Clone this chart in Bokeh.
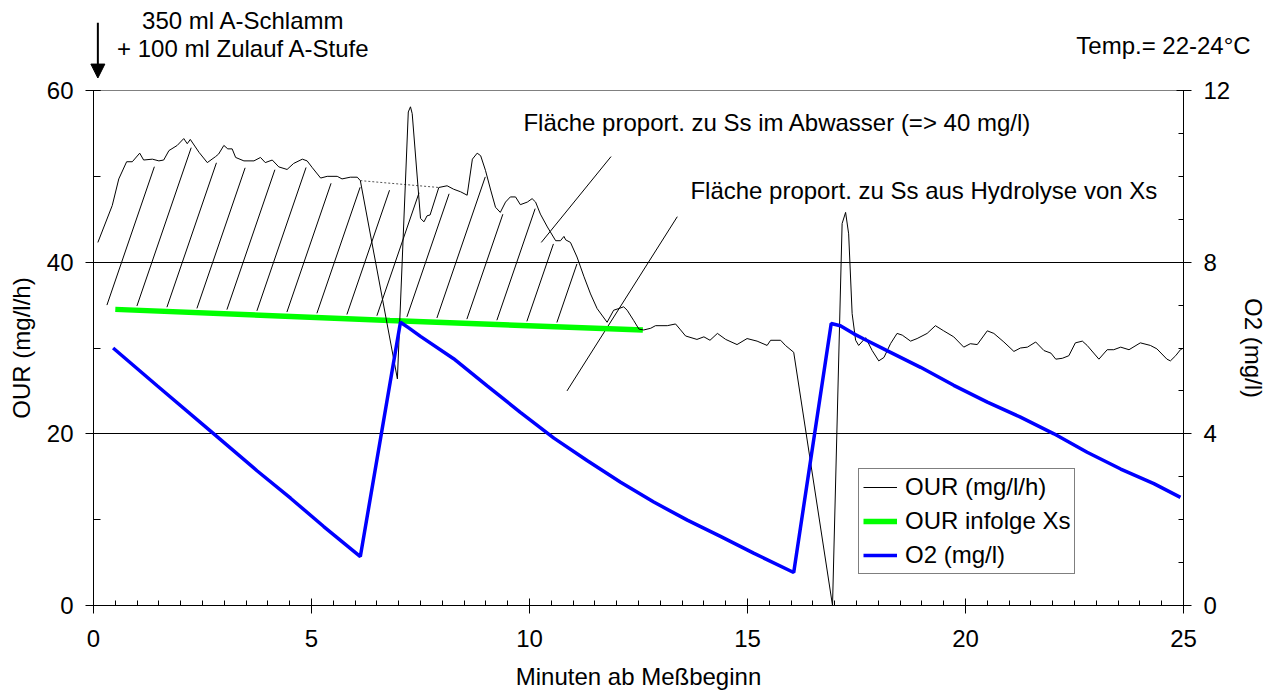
import numpy as np
from bokeh.plotting import figure
from bokeh.layouts import column
from bokeh.models import (Range1d, LinearAxis, SingleIntervalTicker, FixedTicker,
                          Legend, LegendItem, Label, Arrow, NormalHead)
from bokeh.embed import file_html
from bokeh.resources import INLINE

FONT = "Liberation Sans"
FS = "24px"

# page geometry (px)
PAGE_W = 1276
HEAD_H = 78          # caption strip above the plot
MAIN_TOP = 12        # border of the plot above its frame
FRAME_L, FRAME_R = 93, 1183
FRAME_H = 515
BOTTOM_H = 88

X_MIN, X_MAX = 0, 25
Y_MIN, Y_MAX = 0, 60
O2_MIN, O2_MAX = 0, 12

# --- measured oxygen uptake rate, OUR (mg/l/h) over time (min) ---
our_t = [0.10, 0.43, 0.58, 0.76, 0.89, 1.06, 1.15, 1.35, 1.50, 1.61, 1.73, 1.92, 2.07, 2.15,
         2.22, 2.42, 2.61, 2.80, 2.87, 2.99, 3.08, 3.18, 3.26, 3.45, 3.68, 3.83, 3.94, 4.10,
         4.25, 4.44, 4.59, 4.79, 4.90, 5.02, 5.21, 5.36, 5.59, 5.70, 5.89, 6.05, 6.12, 6.97,
         7.22, 7.27, 7.31, 7.50, 7.58, 7.65, 7.72, 7.92, 8.11, 8.26, 8.42, 8.57, 8.69, 8.80,
         8.88, 8.99, 9.11, 9.22, 9.33, 9.45, 9.56, 9.68, 9.79, 9.95, 10.06, 10.14, 10.25,
         10.41, 10.60, 10.71, 10.79, 10.83, 10.94, 11.09, 11.25, 11.40, 11.55, 11.78, 11.93,
         12.05, 12.16, 12.24, 12.39, 12.51, 12.62, 12.78, 12.89, 13.16, 13.35, 13.45, 13.58,
         13.84, 14.00, 14.14, 14.31, 14.50, 14.76, 14.99, 15.22, 15.45, 15.53, 15.76, 15.87,
         16.06, 16.95, 17.17, 17.25, 17.32, 17.40, 17.48, 17.55, 17.71, 17.86, 18.01, 18.13,
         18.28, 18.43, 18.55, 18.74, 18.89, 19.12, 19.31, 19.50, 19.73, 19.96, 20.11, 20.27,
         20.50, 20.65, 20.88, 21.11, 21.26, 21.42, 21.61, 21.80, 21.96, 22.07, 22.22, 22.37,
         22.52, 22.68, 22.79, 23.06, 23.25, 23.40, 23.56, 23.75, 24.01, 24.24, 24.39, 24.62,
         24.70, 24.82, 24.93, 25.00]
our_v = [42.3, 46.6, 49.7, 51.7, 51.7, 52.7, 51.9, 52.0, 51.8, 51.9, 53.0, 53.6, 54.4, 53.8,
         54.3, 52.8, 51.6, 52.3, 52.6, 53.6, 53.2, 53.2, 52.2, 51.8, 51.8, 52.2, 51.6, 51.9,
         51.1, 50.8, 51.5, 52.0, 51.8, 51.0, 49.8, 50.0, 50.0, 49.7, 49.9, 49.9, 49.5, 26.4,
         57.5, 58.1, 57.3, 45.1, 44.7, 45.4, 45.5, 48.7, 48.9, 48.5, 48.2, 47.8, 52.0, 52.7,
         52.4, 50.7, 48.4, 46.4, 45.8, 47.0, 47.6, 47.6, 46.7, 47.0, 47.4, 47.0, 45.6,
         44.1, 42.5, 42.5, 43.0, 42.6, 42.3, 40.6, 38.3, 36.3, 34.6, 33.0, 34.4,
         34.6, 34.8, 34.4, 33.2, 32.2, 32.1, 32.3, 32.6, 32.6, 32.8, 32.2, 31.4,
         31.0, 31.3, 30.9, 31.7, 31.0, 30.4, 31.1, 30.8, 30.3, 30.9, 30.9, 30.3,
         29.5, 0.0, 44.5, 45.8, 43.3, 34.0, 30.9, 30.3, 31.2, 29.7, 28.5, 28.9,
         30.5, 31.7, 31.5, 30.8, 31.1, 31.7, 32.6, 32.0, 31.3, 30.1, 30.5, 30.4,
         32.0, 31.7, 30.7, 29.6, 30.0, 30.1, 30.7, 29.7, 29.4, 28.7, 28.8, 29.1,
         30.6, 30.8, 30.3, 28.7, 29.8, 29.8, 30.1, 29.8, 30.6, 30.3, 29.9, 28.7,
         28.5, 29.1, 29.8, 30.0]

# --- OUR caused by hydrolysis of Xs ---
xs_t = [0.50, 6.80, 12.60]
xs_v = [34.5, 33.2, 32.1]

# --- dissolved oxygen (mg/l), right axis ---
o2_t = [0.45, 1.46, 2.76, 3.75, 4.52, 5.28, 6.12,
        7.04, 7.23, 7.50, 8.26, 9.03, 9.79, 10.56, 11.32, 12.09, 12.85, 13.62, 14.38, 15.14, 16.06,
        16.92, 17.13, 17.44, 17.67, 18.20, 18.97, 19.73, 20.50, 21.26, 22.03, 22.79, 23.56,
        24.32, 24.93]
o2_v = [6.00, 5.12, 4.00, 3.14, 2.50, 1.84, 1.14,
        6.60, 6.47, 6.27, 5.75, 5.12, 4.50, 3.90, 3.38, 2.87, 2.41, 1.99, 1.61, 1.22, 0.77,
        6.57, 6.52, 6.33, 6.21, 5.94, 5.55, 5.13, 4.74, 4.39, 4.00, 3.57, 3.18,
        2.84, 2.52]

# bridge over the aeration spike (upper limit of the Ss area)
bridge_t = [6.12, 7.92]
bridge_v = [49.5, 48.7]

# hatched area "Ss im Abwasser": dosing time to where OUR meets the Xs line
AREA_START = 0.10
AREA_END = 12.62
HATCH_FIRST = -0.38      # min, foot of the first hatch line on the Xs line
HATCH_STEP = 0.688       # min between hatch lines
HATCH_COUNT = 17
HATCH_SLANT = 0.0675     # min per mg/l/h

# pointer lines from the two area captions
ptr1_x = [11.87, 10.27]
ptr1_y = [52.3, 42.3]
ptr2_x = [13.39, 10.86]
ptr2_y = [45.3, 25.0]

DOSING_T = 0.10

# scale of the frame, shared with the caption strip above it
px_per_min = (FRAME_R - FRAME_L) / (X_MAX - X_MIN)
px_per_unit = FRAME_H / (Y_MAX - Y_MIN)

p = figure(width=PAGE_W, height=MAIN_TOP + FRAME_H + BOTTOM_H, output_backend="svg",
           toolbar_location=None,
           x_range=Range1d(X_MIN, X_MAX), y_range=Range1d(Y_MIN, Y_MAX),
           min_border_left=FRAME_L, min_border_right=PAGE_W - FRAME_R,
           min_border_top=MAIN_TOP, min_border_bottom=BOTTOM_H,
           background_fill_color="white", border_fill_color="white")
p.extra_y_ranges = {"o2": Range1d(O2_MIN, O2_MAX)}
p.outline_line_color = "#808080"
p.outline_line_width = 1

# --- hatch lines between the Xs line and the OUR curve ---
our_ta = np.array(our_t)
our_va = np.array(our_v)
keep = (our_ta <= bridge_t[0]) | (our_ta >= bridge_t[1])
top_t = our_ta[keep]
top_v = our_va[keep]


def top(t):
    return np.interp(t, top_t, top_v)


def base(t):
    return np.interp(t, xs_t, xs_v)


hx0, hy0, hx1, hy1 = [], [], [], []
for k in range(HATCH_COUNT):
    tb = HATCH_FIRST + k * HATCH_STEP
    s0 = base(tb) + 0.5
    s = np.arange(s0, 62.0, 0.02)
    t = tb + (s - s0) * HATCH_SLANT
    inside = (t >= AREA_START) & (t <= AREA_END) & (s >= base(t) + 0.4) & (s <= top(t) - 0.8)
    idx = np.flatnonzero(inside)
    if idx.size == 0:
        continue
    i0 = idx[0]
    rest = np.flatnonzero(~inside[i0:])
    i1 = i0 + (rest[0] if rest.size else inside[i0:].size) - 1
    if s[i1] - s[i0] < 1.5:
        continue
    hx0.append(t[i0]); hy0.append(s[i0]); hx1.append(t[i1]); hy1.append(s[i1])

p.segment(hx0, hy0, hx1, hy1, line_color="black", line_width=1)
p.line(bridge_t, bridge_v, line_color="#555555", line_width=1, line_dash="2 2")
p.line(ptr1_x, ptr1_y, line_color="black", line_width=1)
p.line(ptr2_x, ptr2_y, line_color="black", line_width=1)

r_xs = p.line(xs_t, xs_v, line_color="#00FF00", line_width=5.5)
r_our = p.line(our_t, our_v, line_color="black", line_width=1)
r_o2 = p.line(o2_t, o2_v, line_color="#0000FF", line_width=3.5, y_range_name="o2")


# --- axes ---
def style_axis(ax):
    ax.axis_line_color = "black"
    ax.axis_line_width = 1
    ax.major_tick_line_color = "black"
    ax.minor_tick_line_color = "black"
    ax.major_tick_in = 7
    ax.major_tick_out = 8
    ax.minor_tick_out = 0
    ax.major_label_text_font = FONT
    ax.major_label_text_font_size = FS
    ax.major_label_text_color = "black"
    ax.major_label_standoff = 12
    ax.axis_label_text_font = FONT
    ax.axis_label_text_font_size = FS
    ax.axis_label_text_font_style = "normal"
    ax.axis_label_text_color = "black"


xa = p.xaxis[0]
xa.ticker = SingleIntervalTicker(interval=5, num_minor_ticks=10)
xa.axis_label = "Minuten ab Meßbeginn"
style_axis(xa)
xa.minor_tick_in = 5
xa.major_label_standoff = 16
xa.axis_label_standoff = 13

ya = p.yaxis[0]
ya.ticker = SingleIntervalTicker(interval=20, num_minor_ticks=2)
ya.axis_label = "OUR (mg/l/h)"
style_axis(ya)
ya.minor_tick_in = 7
ya.axis_label_standoff = 9

ra = LinearAxis(y_range_name="o2", axis_label="O2 (mg/l)",
                ticker=SingleIntervalTicker(interval=4, num_minor_ticks=4))
style_axis(ra)
ra.minor_tick_in = 5
ra.axis_label_standoff = 7
p.add_layout(ra, "right")

p.xgrid.visible = False
p.ygrid.ticker = FixedTicker(ticks=[20, 40])
p.ygrid.grid_line_color = "black"
p.ygrid.grid_line_width = 1
p.ygrid.grid_line_alpha = 1.0

# --- legend ---
legend = Legend(items=[LegendItem(label="OUR (mg/l/h)", renderers=[r_our]),
                       LegendItem(label="OUR infolge Xs", renderers=[r_xs]),
                       LegendItem(label="O2 (mg/l)", renderers=[r_o2])],
                location=(765, 31), orientation="vertical",
                border_line_color="black", border_line_width=1,
                background_fill_color="white", background_fill_alpha=1.0,
                padding=4, spacing=6, margin=0,
                glyph_width=34, glyph_height=26, label_height=26, label_standoff=8,
                label_text_font=FONT, label_text_font_size=FS, label_text_color="black")
p.add_layout(legend)

# --- caption strip above the plot, on the same time / OUR scale ---
head_y0 = Y_MAX + MAIN_TOP / px_per_unit
head = figure(width=PAGE_W, height=HEAD_H, output_backend="svg", toolbar_location=None,
              x_range=Range1d(X_MIN - FRAME_L / px_per_min,
                              X_MAX + (PAGE_W - FRAME_R) / px_per_min),
              y_range=Range1d(head_y0, head_y0 + HEAD_H / px_per_unit),
              x_axis_type=None, y_axis_type=None,
              min_border=0, min_border_left=0, min_border_right=0,
              min_border_top=0, min_border_bottom=0,
              background_fill_color="white", border_fill_color="white")
head.outline_line_color = None
head.grid.visible = False
if "frame_align" in head.properties():
    head.frame_align = False


def caption(fig, x, y, text, align="left"):
    fig.add_layout(Label(x=x, y=y, text=text, text_font=FONT, text_font_size=FS,
                         text_color="black", text_align=align, text_baseline="middle"))


caption(head, 3.44, 68.10, "350 ml A-Schlamm", "center")
caption(head, 3.44, 64.95, "+ 100 ml Zulauf A-Stufe", "center")
caption(head, 26.54, 65.30, "Temp.= 22-24°C", "right")
caption(p, 9.86, 56.22, "Fläche proport. zu Ss im Abwasser (=> 40 mg/l)")
caption(p, 13.69, 48.35, "Fläche proport. zu Ss aus Hydrolyse von Xs")

head.add_layout(Arrow(x_start=DOSING_T, y_start=67.9, x_end=DOSING_T, y_end=head_y0 + 0.05,
                      line_color="black", line_width=2,
                      end=NormalHead(size=14, fill_color="black", line_color="black")))

page = column(head, p, spacing=0)
open("out.html", "w").write(file_html(page, INLINE))
